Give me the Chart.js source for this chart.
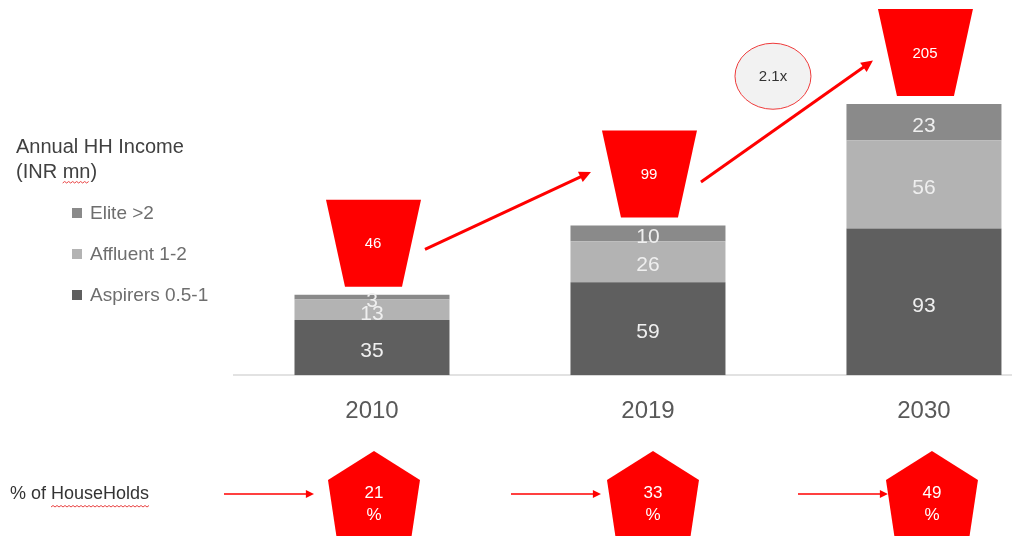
<!DOCTYPE html>
<html>
<head>
<meta charset="utf-8">
<title>Annual HH Income</title>
<script src="https://cdn.jsdelivr.net/npm/chart.js@4"></script>
<style>
  html, body { margin: 0; padding: 0; background: #fff; overflow: hidden; }
  #wrap { width: 1012px; height: 536px; }
</style>
</head>
<body>
<div id="wrap"><canvas id="incomeChart" width="1012" height="536"></canvas></div>
<script>
// data
const categories = ['2010', '2019', '2030'];
const aspirers = [35, 59, 93];
const affluent = [13, 26, 56];
const elite = [3, 10, 23];
const totals = [46, 99, 205];          // red boxes above the bars
const householdShare = [21, 33, 49];   // % of households
const growthLabel = '2.1x';
const legendTitle = ['Annual HH Income', '(INR mn)'];

const RED = '#ff0000';
const FONT = '"Liberation Sans", Arial, sans-serif';

function toPoints(values) {
  return values.map((v, i) => ({ x: i, y: v }));
}

function arrow(ctx, x1, y1, x2, y2, width, head) {
  const a = Math.atan2(y2 - y1, x2 - x1);
  ctx.save();
  ctx.strokeStyle = RED;
  ctx.fillStyle = RED;
  ctx.lineWidth = width;
  ctx.beginPath();
  ctx.moveTo(x1, y1);
  ctx.lineTo(x2 - Math.cos(a) * head * 0.8, y2 - Math.sin(a) * head * 0.8);
  ctx.stroke();
  ctx.beginPath();
  ctx.moveTo(x2, y2);
  ctx.lineTo(x2 - head * Math.cos(a - 0.45), y2 - head * Math.sin(a - 0.45));
  ctx.lineTo(x2 - head * Math.cos(a + 0.45), y2 - head * Math.sin(a + 0.45));
  ctx.closePath();
  ctx.fill();
  ctx.restore();
}

// red spell-check squiggle like in the original slide
function squiggle(ctx, x1, x2, y) {
  ctx.save();
  ctx.strokeStyle = '#e84040';
  ctx.lineWidth = 1;
  ctx.beginPath();
  let up = true;
  ctx.moveTo(x1, y);
  for (let x = x1 + 2; x <= x2; x += 2) {
    ctx.lineTo(x, up ? y - 1.5 : y);
    up = !up;
  }
  ctx.stroke();
  ctx.restore();
}

const decorations = {
  id: 'decorations',
  afterDatasetsDraw(chart) {
    const ctx = chart.ctx;
    const metas = chart.data.datasets.map((d, i) => chart.getDatasetMeta(i));

    // values inside the stacked segments
    ctx.save();
    ctx.fillStyle = '#efefef';
    ctx.font = '21px ' + FONT;
    ctx.textAlign = 'center';
    ctx.textBaseline = 'middle';
    metas.forEach((meta, di) => {
      meta.data.forEach((bar, i) => {
        const yMid = (bar.y + bar.base) / 2;
        ctx.fillText(String(chart.data.datasets[di].data[i].y), bar.x, yMid + 4);
      });
    });
    ctx.restore();

    // red trapezoids with the totals
    const topMeta = metas[metas.length - 1];
    const boxes = topMeta.data.map((bar, i) => {
      const bottom = bar.y - 8;
      const top = bottom - 87;
      const cx = bar.x + 1;
      ctx.save();
      ctx.fillStyle = RED;
      ctx.beginPath();
      ctx.moveTo(cx - 47, top);
      ctx.lineTo(cx + 48, top);
      ctx.lineTo(cx + 29, bottom);
      ctx.lineTo(cx - 28, bottom);
      ctx.closePath();
      ctx.fill();
      ctx.fillStyle = '#ffffff';
      ctx.font = '15px ' + FONT;
      ctx.textAlign = 'center';
      ctx.textBaseline = 'middle';
      ctx.fillText(String(totals[i]), cx, (top + bottom) / 2 + 1);
      ctx.restore();
      return { cx, cy: (top + bottom) / 2 };
    });

    // arrows between the boxes
    let lastArrow = null;
    for (let i = 0; i < boxes.length - 1; i++) {
      const a = boxes[i], b = boxes[i + 1];
      const x1 = a.cx + 52, y1 = a.cy + 6 + i * 2;
      const x2 = b.cx - 58 + i * 6, y2 = b.cy - 2 + i * 10;
      arrow(ctx, x1, y1, x2, y2, 3, 13);
      lastArrow = { x1, y1, x2, y2 };
    }

    // growth bubble above the last arrow
    if (lastArrow) {
      const mx = (lastArrow.x1 + lastArrow.x2) / 2 - 14;
      const my = (lastArrow.y1 + lastArrow.y2) / 2 - 45;
      ctx.save();
      ctx.beginPath();
      ctx.ellipse(mx, my, 38, 33, 0, 0, Math.PI * 2);
      ctx.fillStyle = '#f2f2f2';
      ctx.fill();
      ctx.strokeStyle = '#ee3a3a';
      ctx.lineWidth = 1;
      ctx.stroke();
      ctx.fillStyle = '#333333';
      ctx.font = '15px ' + FONT;
      ctx.textAlign = 'center';
      ctx.textBaseline = 'middle';
      ctx.fillText(growthLabel, mx, my + 1);
      ctx.restore();
    }

    // legend on the left
    ctx.save();
    ctx.textAlign = 'left';
    ctx.textBaseline = 'alphabetic';
    ctx.fillStyle = '#404040';
    ctx.font = '20px ' + FONT;
    ctx.fillText(legendTitle[0], 16, 153);
    ctx.fillText(legendTitle[1], 16, 178);
    const mnX = 16 + ctx.measureText('(INR ').width;
    squiggle(ctx, mnX, mnX + ctx.measureText('mn').width, 183);
    const order = chart.data.datasets.slice().reverse();
    ctx.font = '19px ' + FONT;
    ctx.textBaseline = 'middle';
    order.forEach((ds, i) => {
      const y = 213 + i * 41;
      ctx.fillStyle = ds.backgroundColor;
      ctx.fillRect(72, y - 5, 10, 10);
      ctx.fillStyle = '#6e6e6e';
      ctx.fillText(ds.label, 90, y + 1);
    });
    ctx.restore();

    // % of households row
    ctx.save();
    ctx.fillStyle = '#333333';
    ctx.font = '18px ' + FONT;
    ctx.textAlign = 'left';
    ctx.textBaseline = 'middle';
    ctx.fillText('% of HouseHolds', 10, 494);
    const hx = 10 + ctx.measureText('% of ').width;
    squiggle(ctx, hx, hx + ctx.measureText('HouseHolds').width, 507);
    ctx.restore();

    topMeta.data.forEach((bar, i) => {
      const cx = bar.x + 2 + i * 3;
      const tip = cx - 60 + i * 8;
      arrow(ctx, tip - 90, 494, tip, 494, 1.5, 9);
      ctx.save();
      ctx.fillStyle = RED;
      ctx.beginPath();
      ctx.moveTo(cx, 451);
      ctx.lineTo(cx + 46, 480);
      ctx.lineTo(cx + 37, 540);
      ctx.lineTo(cx - 37, 540);
      ctx.lineTo(cx - 46, 480);
      ctx.closePath();
      ctx.fill();
      ctx.fillStyle = '#ffffff';
      ctx.font = '17px ' + FONT;
      ctx.textAlign = 'center';
      ctx.textBaseline = 'middle';
      ctx.fillText(String(householdShare[i]), cx, 493);
      ctx.fillText('%', cx, 515);
      ctx.restore();
    });
  }
};

const ctx = document.getElementById('incomeChart').getContext('2d');
new Chart(ctx, {
  type: 'bar',
  data: {
    datasets: [
      { label: 'Aspirers 0.5-1', data: toPoints(aspirers), backgroundColor: '#5f5f5f' },
      { label: 'Affluent 1-2', data: toPoints(affluent), backgroundColor: '#b3b3b3' },
      { label: 'Elite >2', data: toPoints(elite), backgroundColor: '#8a8a8a' }
    ]
  },
  options: {
    responsive: false,
    devicePixelRatio: 1,
    animation: false,
    layout: { padding: { left: 234, right: 0, top: 0, bottom: 88 } },
    datasets: { bar: { categoryPercentage: 1, barPercentage: 0.5616 } },
    plugins: { legend: { display: false }, tooltip: { enabled: false } },
    scales: {
      x: {
        type: 'linear',
        stacked: true,
        offset: false,
        min: -0.5,
        max: 2.319,
        afterBuildTicks: axis => { axis.ticks = categories.map((c, i) => ({ value: i })); },
        grid: { display: false, drawTicks: false, offset: false },
        border: { display: true, color: '#e2e2e2', width: 2 },
        ticks: {
          callback: v => categories[v],
          color: '#595959',
          font: { size: 24, family: FONT },
          padding: 22,
          autoSkip: false,
          maxRotation: 0
        }
      },
      y: {
        stacked: true,
        display: false,
        min: 0,
        max: 238
      }
    }
  },
  plugins: [decorations]
});
</script>
</body>
</html>
